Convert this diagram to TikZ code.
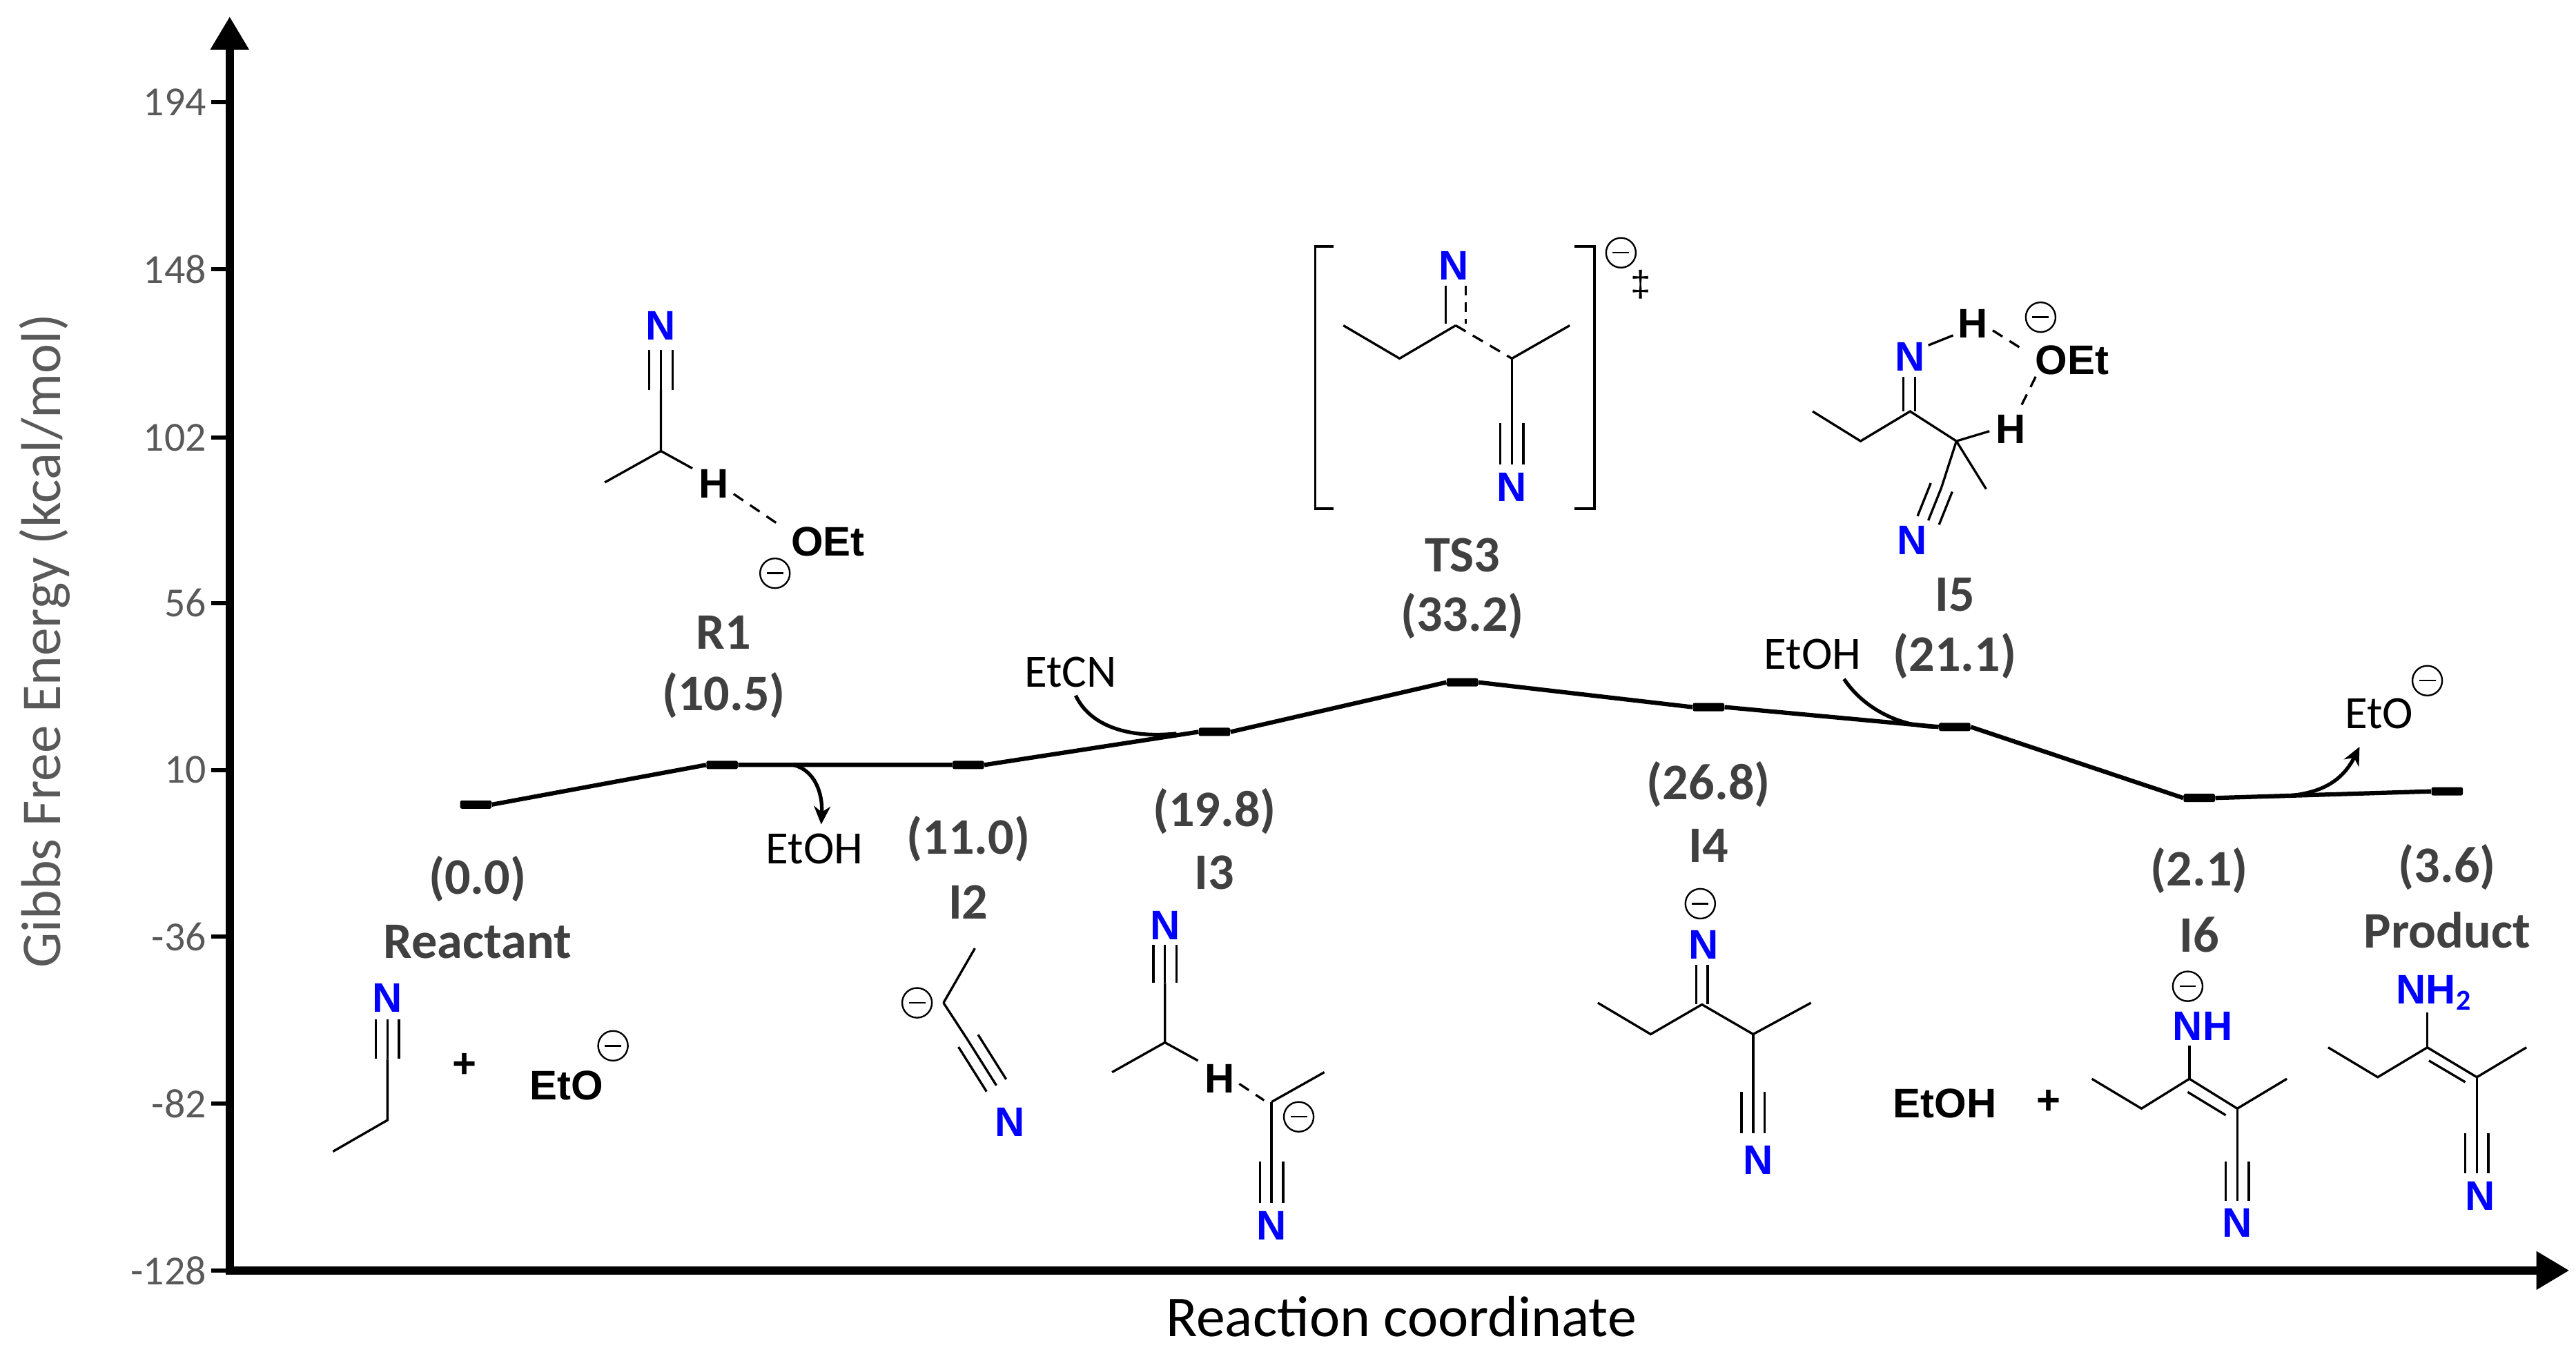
\documentclass[tikz,border=0pt]{standalone}
\usepackage{fontspec}
\setmainfont{Carlito}
\newfontfamily\arialf{Liberation Sans}
\usetikzlibrary{calc,arrows.meta}
\definecolor{lab}{HTML}{404040}
\definecolor{tick}{HTML}{595959}
\definecolor{nblue}{HTML}{0000FF}
\newcommand\negch[1]{\draw[line width=1pt] (#1) circle (9pt); \draw[line width=1pt] ($(#1)+(-5,0)$) -- ($(#1)+(5,0)$);}
\newcommand\tbond[2]{\draw ($(#1)!7pt!90:(#2)$) -- ($(#2)!7pt!-90:(#1)$); \draw (#1)--(#2); \draw ($(#1)!7pt!-90:(#2)$) -- ($(#2)!7pt!90:(#1)$);}
\begin{document}
\begin{tikzpicture}[x=1pt,y=-1pt,
  mol/.style={line width=1.4pt},
  atomN/.style={font=\arialf\bfseries\fontsize{25}{25}\selectfont, text=nblue, inner sep=0},
  atomK/.style={font=\arialf\bfseries\fontsize{25}{25}\selectfont, inner sep=0},
  lbl/.style={font=\bfseries\fontsize{31}{31}\selectfont, text=lab, inner sep=0},
  small/.style={font=\fontsize{28}{28}\selectfont, inner sep=0},
  ticklbl/.style={font=\fontsize{25}{25}\selectfont, text=tick, anchor=east, inner sep=0},
  lvl/.style={fill=black, minimum width=19pt, minimum height=5pt, inner sep=0, rounded corners=1pt},
  path/.style={line width=2.6pt},
  carrow/.style={line width=2.2pt},
  hdash/.style={dashed, dash pattern=on 7pt off 5pt}]
\useasboundingbox (0,0) rectangle (1559,818);
% axes
\coordinate (O) at (139,769);
\coordinate (Ytop) at (139,10);
\coordinate (Xend) at (1555,769);
\draw[line width=5pt, -{Triangle[length=20pt,width=22pt]}] (O) -- (Ytop);
\draw[line width=5pt, -{Triangle[length=20pt,width=22pt]}] ($(O)+(-2.5,0)$) -- (Xend);
\foreach \v/\y in {194/62,148/163,102/265,56/365,10/466,-36/567,-82/668,-128/769}{
  \draw[line width=2.5pt] (128,\y) -- (139,\y);
  \node[ticklbl] at (125,\y) {\v};
}
\node[font=\fontsize{34}{34}\selectfont, text=tick, rotate=90] (ylab) at (27,388) {Gibbs Free Energy (kcal/mol)};
\node[font=\fontsize{35}{35}\selectfont] (xlab) at (848,797) {Reaction coordinate};
% levels
\node[lvl] (L0) at (288,487) {};
\node[lvl] (L1) at (437,463) {};
\node[lvl] (L2) at (586,463) {};
\node[lvl] (L3) at (735,443) {};
\node[lvl] (L4) at (885,413) {};
\node[lvl] (L5) at (1034,428) {};
\node[lvl] (L6) at (1183,440) {};
\node[lvl] (L7) at (1331,483) {};
\node[lvl] (L8) at (1481,479) {};
\draw[path] (L0.east) -- (L1.west) (L1.east) -- (L2.west) (L2.east) -- (L3.west) (L3.east) -- (L4.west)
  (L4.east) -- (L5.west) (L5.east) -- (L6.west) (L6.east) -- (L7.west) (L7.east) -- (L8.west);
% side arrows
\node[small] (etoh1) at (493,514) {EtOH};
\coordinate (a1s) at (480,463);
\draw[carrow, -{Stealth[length=11pt,width=10pt]}] (a1s) .. controls (493,466) and (498,480) .. (497,499);
\node[small] (etcn) at (648,407) {EtCN};
\coordinate (a2e) at (712,444);
\draw[carrow] (651,421) .. controls (660,440) and (684,447) .. (a2e);
\node[small] (etoh2) at (1097,396) {EtOH};
\coordinate (a3e) at (1172,440);
\draw[carrow] (1116,411) .. controls (1128,429) and (1150,440) .. (a3e);
\coordinate (a4s) at (1376,482);
\draw[carrow, -{Stealth[length=11pt,width=10pt]}] (a4s) .. controls (1405,482) and (1418,472) .. (1428,452);
\node[small, anchor=west] (eto4) at (1419,432) {EtO};
\negch{1469,412}
% labels
\node[lbl] at (289,532) {(0.0)};
\node[lbl] at (289,570) {Reactant};
\node[lbl] at (438,383) {R1};
\node[lbl] at (438,421) {(10.5)};
\node[lbl] at (586,508) {(11.0)};
\node[lbl] at (586,546) {I2};
\node[lbl] at (735,491) {(19.8)};
\node[lbl] at (735,528) {I3};
\node[lbl] at (885,336) {TS3};
\node[lbl] at (885,373) {(33.2)};
\node[lbl] at (1034,475) {(26.8)};
\node[lbl] at (1034,512) {I4};
\node[lbl] at (1183,360) {I5};
\node[lbl] at (1183,397) {(21.1)};
\node[lbl] at (1331,527) {(2.1)};
\node[lbl] at (1331,566) {I6};
\node[lbl] at (1481,525) {(3.6)};
\node[lbl] at (1481,563) {Product};
\begin{scope}[mol]
% Reactant
\node[atomN] at (234.5,604) {N};
\tbond{234.5,617}{234.5,641}
\draw (234.5,641) -- (234.5,678) -- (201.5,697);
\node[atomK] at (281,645) {+};
\node[atomK] at (343,657) {EtO};
\negch{371,633}
% R1
\node[atomN] at (400,197) {N};
\tbond{400,212}{400,236}
\draw (400,236) -- (400,273) -- (366,292);
\draw (400,273) -- (419,283.5);
\node[atomK] at (432,293) {H};
\draw[hdash] (444,299) -- (472,318);
\node[atomK] at (501,328) {OEt};
\negch{469,347}
% I2
\negch{555,607}
\draw (571,607) -- (590,574);
\draw (571,607) -- (586,630);
\tbond{586,630}{603,657}
\node[atomN] at (611,679) {N};
% I3
\node[atomN] at (705,560) {N};
\tbond{705,572}{705,595}
\draw (705,595) -- (705,631) -- (673,649);
\draw (705,631) -- (725,642);
\node[atomK] at (738,653) {H};
\draw[hdash] (750,656) -- (765,666);
\draw (769.5,667) -- (801.5,649);
\draw (769.5,667) -- (769.5,703);
\negch{786,676}
\tbond{769.5,703}{769.5,728}
\node[atomN] at (769.5,742) {N};
% TS3
\draw[line width=1.6pt] (807,149) -- (796,149) -- (796,308) -- (807,308);
\draw[line width=1.6pt] (953,149) -- (965,149) -- (965,308) -- (953,308);
\negch{981,153}
\node[atomK, font=\arialf\fontsize{22}{22}\selectfont] at (993,172) {‡};
\node[atomN] at (880,161) {N};
\draw (875,173) -- (875,196);
\draw[dashed, dash pattern=on 6pt off 4pt] (887,173) -- (887,196);
\draw (813,197) -- (847,217) -- (881,197);
\draw[hdash] (881,197) -- (915,217);
\draw (915,217) -- (950,197);
\draw (915,217) -- (915,256);
\tbond{915,256}{915,281}
\node[atomN] at (915,295) {N};
% I5
\node[atomN] at (1156,216) {N};
\draw (1152,228) -- (1152,249);
\draw (1159,228) -- (1159,249);
\draw (1097,249) -- (1126,267) -- (1156,249) -- (1184,267);
\draw (1184,267) -- (1204,261);
\node[atomK] at (1217,260) {H};
\draw (1184,267) -- (1202,296);
\draw (1184,267) -- (1175,295);
\tbond{1175,295}{1167,315}
\node[atomN] at (1157,327) {N};
\draw (1167,209) -- (1182,203);
\node[atomK] at (1194,196) {H};
\draw[hdash] (1206,200) -- (1225,212);
\node[atomK] at (1254,218) {OEt};
\negch{1235,192}
\draw[hdash] (1232,228) -- (1222,248);
% I4
\negch{1029,547}
\node[atomN] at (1031,572) {N};
\draw (1026.5,584) -- (1026.5,608);
\draw (1033.5,584) -- (1033.5,608);
\draw (967,607) -- (999,626) -- (1030,608) -- (1061,626) -- (1096,607);
\draw (1061,626) -- (1061,661);
\tbond{1061,661}{1061,686}
\node[atomN] at (1064,702) {N};
% I6
\node[atomK] at (1177,668) {EtOH};
\node[atomK] at (1240,667) {+};
\negch{1324,597}
\node[atomN] at (1333,621) {NH};
\draw (1325,633) -- (1325,653);
\draw (1266,653) -- (1296,671) -- (1325,653) -- (1354,671) -- (1384,653);
\draw (1324,661) -- (1347,675);
\draw (1354,671) -- (1354,703);
\tbond{1354,703}{1354,727}
\node[atomN] at (1354,740) {N};
% Product
\node[atomN] at (1473,601) {NH$_\mathbf{2}$};
\draw (1469,613) -- (1469,634);
\draw (1409,634) -- (1439,652) -- (1469,634) -- (1499,652) -- (1529,634);
\draw (1470,642) -- (1492,655);
\draw (1499,652) -- (1499,686);
\tbond{1499,686}{1499,710}
\node[atomN] at (1501,724) {N};
\end{scope}
\end{tikzpicture}
\end{document}
